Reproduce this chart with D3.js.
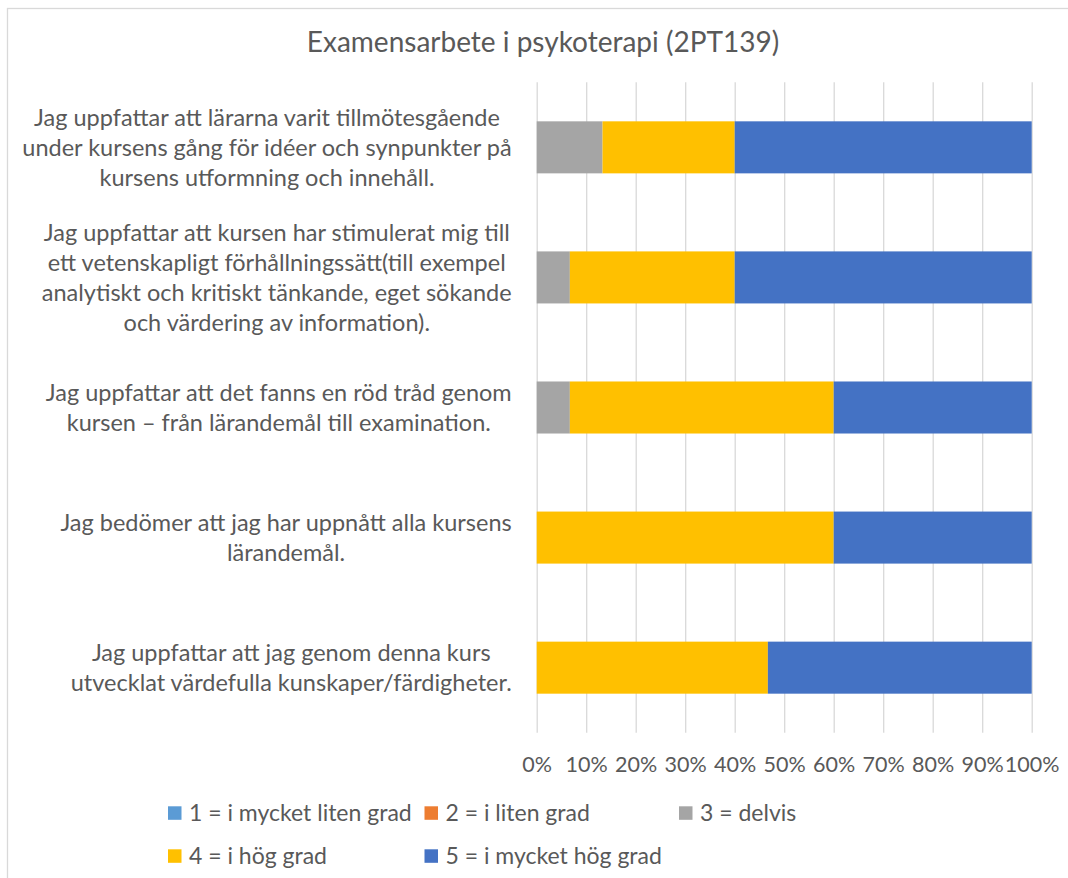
<!DOCTYPE html>
<html>
<head>
<meta charset="utf-8">
<script src="https://cdn.jsdelivr.net/npm/d3@7"></script>
<style>
  html, body { margin: 0; padding: 0; background: #fff; }
  svg { display: block; }
  text { font-family: Lato, "Open Sans", sans-serif; fill: #595959; }
</style>
</head>
<body>
<svg id="chart" width="1068" height="878"></svg>
<script>
const title = "Examensarbete i psykoterapi (2PT139)";
const categories = [
  ["Jag uppfattar att lärarna varit tillmötesgående", "under kursens gång för idéer och synpunkter på", "kursens utformning och innehåll."],
  ["Jag uppfattar att kursen har stimulerat mig till", "ett vetenskapligt förhållningssätt(till exempel", "analytiskt och kritiskt tänkande, eget sökande", "och värdering av information)."],
  ["Jag uppfattar att det fanns en röd tråd genom", "kursen – från lärandemål till examination."],
  ["Jag bedömer att jag har uppnått alla kursens", "lärandemål."],
  ["Jag uppfattar att jag genom denna kurs", "utvecklat värdefulla kunskaper/färdigheter."]
];
const seriesNames = ["1 = i mycket liten grad", "2 = i liten grad", "3 = delvis", "4 = i hög grad", "5 = i mycket hög grad"];
const seriesColors = ["#5B9BD5", "#ED7D31", "#A5A5A5", "#FFC000", "#4472C4"];
const s1 = [0, 0, 0, 0, 0];
const s2 = [0, 0, 0, 0, 0];
const s3 = [13.3, 6.7, 6.7, 0, 0];
const s4 = [26.7, 33.3, 53.3, 60, 46.7];
const s5 = [60, 60, 40, 40, 53.3];
const tickValues = [0, 0.1, 0.2, 0.3, 0.4, 0.5, 0.6, 0.7, 0.8, 0.9, 1.0];

const seriesValues = [s1, s2, s3, s4, s5];
const W = 1068, H = 878;
const plot = { left: 536.7, right: 1031.7, top: 82.3, bottom: 732.7 };
const svg = d3.select("#chart");

// chart border
svg.append("rect").attr("x", 7.5).attr("y", 8.5).attr("width", W + 10).attr("height", H + 10)
  .attr("fill", "#fff").attr("stroke", "#D9D9D9").attr("stroke-width", 1.3);

const x = d3.scaleLinear().domain([0, 1]).range([plot.left, plot.right]);
const y = d3.scaleBand().domain(d3.range(categories.length)).range([plot.top, plot.bottom]).paddingInner(0.6).paddingOuter(0.3);

// gridlines + tick labels
const xAxis = d3.axisBottom(x).tickValues(tickValues).tickSize(-(plot.bottom - plot.top)).tickFormat(d3.format(".0%"));
const gx = svg.append("g").attr("transform", `translate(0,${plot.bottom})`).call(xAxis);
gx.select(".domain").remove();
gx.selectAll(".tick line").attr("stroke", "#D9D9D9").attr("stroke-width", 1.3);
gx.selectAll(".tick text").attr("y", 32).attr("dy", "0.35em").attr("font-size", "21.5px")
  .style("font-family", "Lato, sans-serif").attr("fill", "#595959");

// stacked data
const rows = categories.map((c, i) => {
  const r = { i };
  seriesValues.forEach((s, k) => r["s" + k] = s[i]);
  return r;
});
const keys = seriesValues.map((s, k) => "s" + k);
const stacked = d3.stack().keys(keys).offset(d3.stackOffsetExpand)(rows);

svg.append("g").selectAll("g").data(stacked).join("g")
  .attr("fill", (d, k) => seriesColors[k])
  .selectAll("rect").data(d => d).join("rect")
  .attr("x", d => x(d[0]))
  .attr("width", d => Math.max(0, x(d[1]) - x(d[0])))
  .attr("y", d => y(d.data.i))
  .attr("height", y.bandwidth());

// category labels
const lineH = 30;
const labelRight = plot.left - 25;
const lg = svg.append("g");
categories.forEach((lines, i) => {
  const cy = y(i) + y.bandwidth() / 2;
  const t = lg.append("text").attr("font-size", "23.5px").attr("text-anchor", "middle");
  const spans = lines.map((ln, j) => t.append("tspan").attr("y", cy + (j - (lines.length - 1) / 2) * lineH).attr("dy", "0.35em").text(ln));
  let maxW = 0;
  spans.forEach(sp => { maxW = Math.max(maxW, sp.node().getComputedTextLength()); });
  const cx = labelRight - maxW / 2;
  spans.forEach(sp => sp.attr("x", cx));
});

// title
svg.append("text").attr("x", 543).attr("y", 42).attr("dy", "0.35em").attr("text-anchor", "middle")
  .attr("font-size", "28px").text(title);

// legend
const colX = [168, 424.5, 679];
const rowY = [813, 856];
const leg = svg.append("g");
seriesNames.forEach((name, k) => {
  const gxp = colX[k % 3], gyp = rowY[Math.floor(k / 3)];
  leg.append("rect").attr("x", gxp).attr("y", gyp - 6.7).attr("width", 13.5).attr("height", 13.5).attr("fill", seriesColors[k]);
  leg.append("text").attr("x", gxp + 21).attr("y", gyp).attr("dy", "0.35em").attr("font-size", "23px").text(name);
});
</script>
</body>
</html>
